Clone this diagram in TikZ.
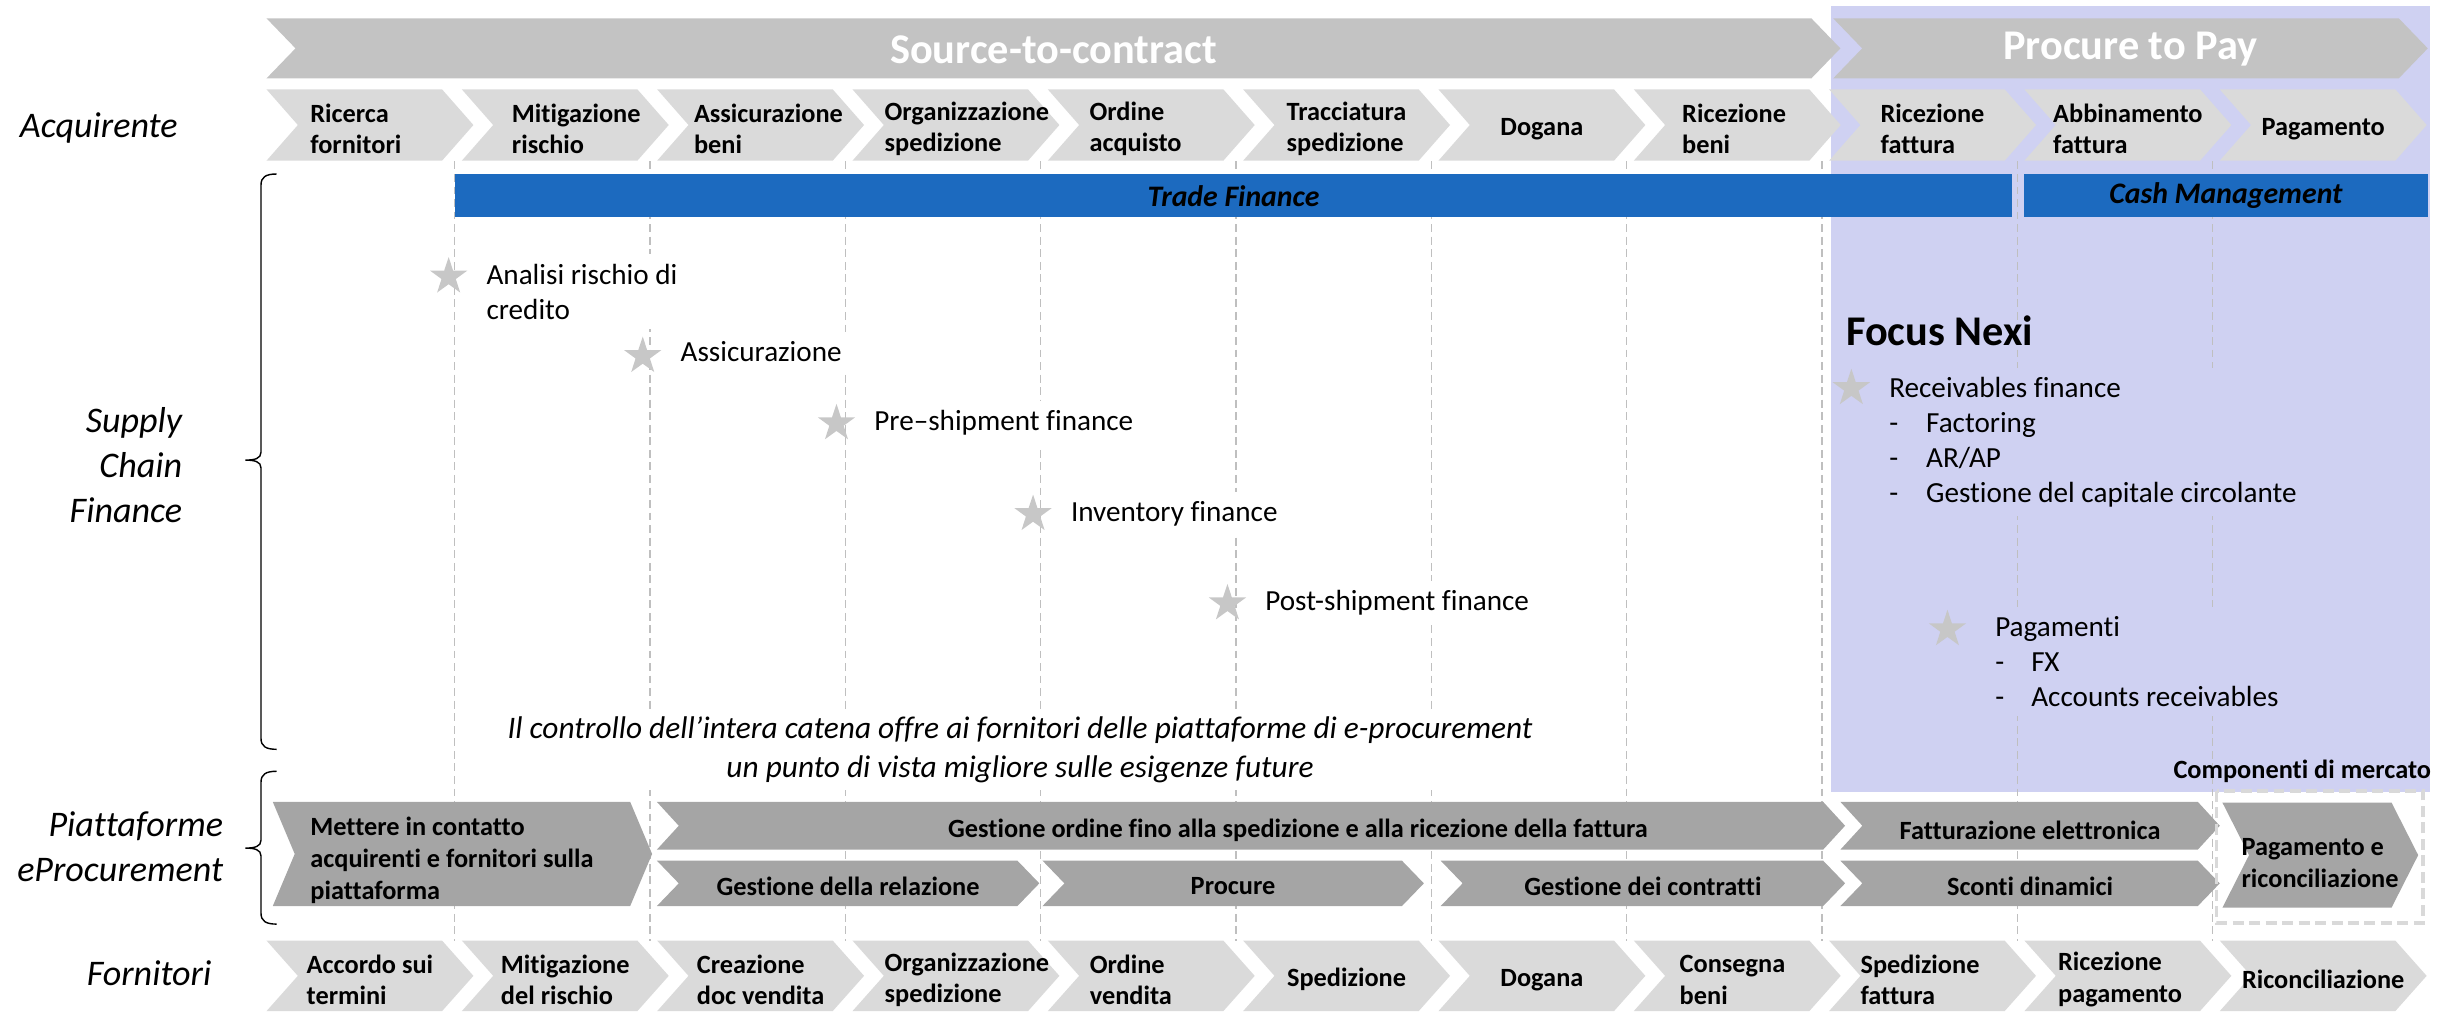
\documentclass[tikz,border=0pt]{standalone}
\usepackage{fontspec}
\setmainfont{Carlito}[Ligatures={TeX,NoCommon}]
\usepackage{xcolor}
\usepackage{tikz}
\usetikzlibrary{calc}
\usetikzlibrary{shapes.geometric}
\definecolor{lav}{RGB}{207,209,242}
\definecolor{phgrey}{RGB}{195,195,195}
\definecolor{chvgrey}{RGB}{218,218,218}
\definecolor{pfgrey}{RGB}{165,165,165}
\definecolor{tfblue}{RGB}{28,106,191}
\colorlet{stargrey}{black!22}
\colorlet{gridgrey}{black!25}
\colorlet{boxgrey}{black!15}
\newcommand\fsz[2]{\fontsize{#1}{#2}\selectfont}
% chevron: left, tip, top, bottom, depth, colour
\newcommand\chev[6]{%
  \fill[#6] (#1,#3) -- ({#2-#5},#3) -- (#2,{(#3+#4)/2}) -- ({#2-#5},#4)
    -- (#1,#4) -- ({#1+#5},{(#3+#4)/2}) -- cycle;}
% brace: x, top, tip, bottom
\newcommand\brc[4]{%
  \draw[line width=.9pt] ({#1+10},#2) .. controls ({#1+3},#2) and (#1,{#2+2}) .. (#1,{#2+7})
    -- (#1,{#3-5}) .. controls (#1,{#3-1}) and ({#1-4},#3) .. ({#1-10},#3)
    .. controls ({#1-4},#3) and (#1,{#3+1}) .. (#1,{#3+5})
    -- (#1,{#4-7}) .. controls (#1,{#4-2}) and ({#1+3},#4) .. ({#1+10},#4);}
\tikzstyle{chv}=[font=\bfseries\fsz{16.8}{20.2},align=left,inner sep=0pt]
\tikzstyle{ph}=[font=\bfseries\fsz{27}{32},text=white,inner sep=0pt]
\tikzstyle{lab}=[font=\itshape\fsz{23}{28.6},align=right,inner sep=0pt,anchor=base east]
\tikzstyle{sl}=[font=\fsz{18.6}{22.3},align=left,fill=white,inner sep=6pt,anchor=base west]
\tikzstyle{slf}=[sl,fill=lav]
\tikzstyle{st}=[star,star points=5,star point ratio=2.6,fill=stargrey,minimum size=25pt,inner sep=0pt]
\tikzstyle{bar}=[fill=tfblue,font=\bfseries\itshape\fsz{19}{23},minimum height=27.7pt,inner sep=0pt]
\tikzstyle{grd}=[gridgrey,line width=.8pt,dash pattern=on 5pt off 3pt]
\begin{document}
\begin{tikzpicture}[x=1pt,y=-1pt]
	\useasboundingbox (0,0) rectangle (1568,645.6);
	\fill[lav] (1168,3.8) rectangle (1550,505);
	\foreach \k in {1,...,10} \draw[grd] ({165.4+124.6*\k},103) -- ({165.4+124.6*\k},600);
	% phases
	\chev{170}{1174}{11.7}{50}{18.5}{phgrey}
	\chev{1169.4}{1548.7}{11.7}{50}{18.5}{phgrey}
	\node[ph] (stc) at (672,31.5) {Source-to-contract};
	\node[ph] (ptp) at (1359,31.5) {Procure to Pay};
	% buyer and supplier steps
	\foreach \t/\dx [count=\i from 0] in {{Ricerca\\fornitori}/-9,{Mitigazione\\rischio}/7,{Assicurazione\\beni}/5,
	  {Organizzazione\\spedizione}/7,{Ordine\\acquisto}/-10,{Tracciatura\\spedizione}/0,{Dogana}/0,{Ricezione\\beni}/-2,
	  {Ricezione\\fattura}/0,{Abbinamento\\fattura}/0,{Pagamento}/0}{
	  \pgfmathsetmacro\l{170+124.6*\i}
	  \chev{\l}{\l+132}{57}{102.5}{20}{chvgrey}
	  \node[chv] (a\i) at ({\l+66+\dx},82.25) {\t};}
	\foreach \t/\dx [count=\i from 0] in {{Accordo sui\\termini}/0,{Mitigazione\\del rischio}/0,{Creazione\\doc vendita}/0,
	  {Organizzazione\\spedizione}/7,{Ordine\\vendita}/-13,{Spedizione}/0,{Dogana}/0,{Consegna\\beni}/-3,
	  {Spedizione\\fattura}/-8,{Ricezione\\pagamento}/-5,{Riconciliazione}/0}{
	  \pgfmathsetmacro\l{170+124.6*\i}
	  \chev{\l}{\l+132}{600}{645}{20}{chvgrey}
	  \node[chv] (f\i) at ({\l+66+\dx},625) {\t};}
	% finance bars
	\node[bar,minimum width=993.3pt] (tf) at (786.85,124.85) {Trade Finance};
	\node[bar,minimum width=257.5pt] (cmg) at (1419.95,124.85) {Cash Management};
	% eProcurement
	\chev{174}{416}{511.5}{578}{14}{pfgrey}
	\chev{419}{1177}{511.5}{542}{14}{pfgrey}
	\chev{419}{663}{549}{578}{14}{pfgrey}
	\chev{665}{908.3}{549}{578}{14}{pfgrey}
	\chev{919}{1177}{549}{578}{14}{pfgrey}
	\chev{1174}{1416}{511.5}{542}{14}{pfgrey}
	\chev{1174}{1416}{549}{578}{14}{pfgrey}
	\chev{1417.7}{1542.6}{512}{579}{17}{pfgrey}
	\draw[boxgrey,line width=2.2pt,dash pattern=on 7pt off 3.5pt] (1414,504.5) rectangle (1545.7,588.7);
	\node[chv,anchor=west] (p1) at (197.8,548.8) {Mettere in contatto\\acquirenti e fornitori sulla\\piattaforma};
	\node[chv] (p2) at (828,529.5) {Gestione ordine fino alla spedizione e alla ricezione della fattura};
	\node[chv] (p3) at (541,565.5) {Gestione della relazione};
	\node[chv] (p4) at (786.6,565.5) {Procure};
	\node[chv] (p5) at (1048,565.5) {Gestione dei contratti};
	\node[chv] (p6) at (1295,529.5) {Fatturazione elettronica};
	\node[chv] (p7) at (1295,565.5) {Sconti dinamici};
	\node[chv] (p8) at (1480,550.5) {Pagamento e\\riconciliazione};
	\node[chv,anchor=east] (cdm) at (1551,492) {Componenti di mercato};
	% row labels
	\node[lab] (acq) at (113.5,87.5) {Acquirente};
	\node[lab] (scf) at (116.4,333) {Supply\\Chain\\Finance};
	\node[lab] (pep) at (142.5,562.5) {Piattaforme\\eProcurement};
	\node[lab] (forn) at (135,628.5) {Fornitori};
	\brc{166.5}{111}{293.5}{478}
	\brc{166.5}{492}{541}{589.5}
	% supply chain finance
	\node[st] (s1) at (286.2,176.5) {};
	\node[st] (s2) at (410,227.2) {};
	\node[st] (s3) at (533.6,270.1) {};
	\node[st] (s4) at (659,328) {};
	\node[st] (s5) at (783,385) {};
	\node[sl] (t1) at ($(s1)+(18,27)$) {Analisi rischio di\\credito};
	\node[sl] (t2) at ($(s2)+(18,3.6)$) {Assicurazione};
	\node[sl] (t3) at ($(s3)+(18,4.5)$) {Pre–shipment finance};
	\node[sl] (t4) at ($(s4)+(18,4.5)$) {Inventory finance};
	\node[sl] (t5) at ($(s5)+(18,4.5)$) {Post-shipment finance};
	\node[font=\itshape\fsz{20}{25},align=center,fill=white,inner sep=4pt] (ctl) at (650.7,478.5)
	  {Il controllo dell’intera catena offre ai fornitori delle piattaforme di e-procurement\\un punto di vista migliore sulle esigenze future};
	% focus
	\node[anchor=base west,font=\bfseries\fsz{27}{32},inner sep=0pt] (fnx) at (1177.5,220.5) {Focus Nexi};
	\node[st] (s6) at (1181,247.7) {};
	\node[st] (s7) at (1242.3,401.5) {};
	\node[slf] (t6) at ($(s6)+(18,72.7)$) {Receivables finance\\\makebox[23.5pt][l]{-}Factoring\\
	  \makebox[23.5pt][l]{-}AR/AP\\\makebox[23.5pt][l]{-}Gestione del capitale circolante};
	\node[slf] (t7) at ($(s7)+(24.3,49.3)$) {Pagamenti\\\makebox[23pt][l]{-}FX\\\makebox[23pt][l]{-}Accounts receivables};
\end{tikzpicture}
\end{document}
